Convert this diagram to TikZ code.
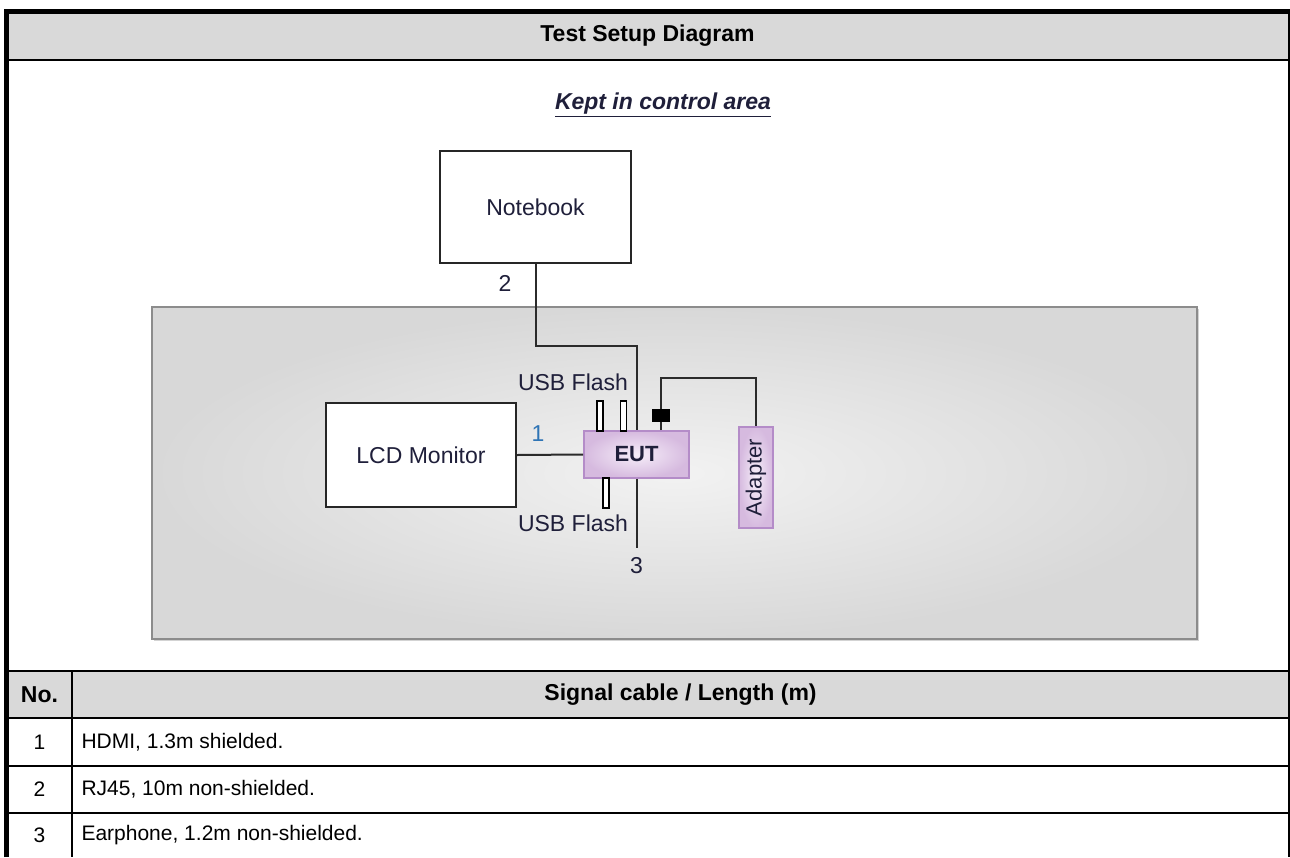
\documentclass[tikz,border=0pt]{standalone}
\usepackage{fontspec}
\usepackage{graphicx}
\setmainfont{Liberation Sans}
\usetikzlibrary{shadows}
\definecolor{headgray}{HTML}{D9D9D9}
\definecolor{areaedge}{HTML}{8C8C8C}
\definecolor{areain}{HTML}{F2F2F2}
\definecolor{areaout}{HTML}{D8D8D8}
\definecolor{eutedge}{HTML}{B48CC8}
\definecolor{eutin}{HTML}{F6EEF9}
\definecolor{eutout}{HTML}{D6BADF}
\definecolor{cablegray}{HTML}{2B2B2B}
\definecolor{inkblue}{HTML}{1F1F3A}
\definecolor{numblue}{HTML}{2E74B5}
\newcommand{\devicebox}[5] {\node at (#1) (#2) [draw=black!85, line width=2pt, fill=white, minimum width=#3, minimum height=#4, inner sep=0pt, text=inkblue] {#5};}
\newcommand{\purplebox}[5] {\node at (#1) (#2) [draw=eutedge, line width=1.6pt, shading=radial, inner color=eutin, outer color=eutout, minimum width=#3, minimum height=#4, inner sep=0pt, text=inkblue] {#5};}
\newcommand{\usbstick}[2] {\node at (#1) (#2) [draw=black, line width=1.4pt, fill=white, minimum width=6, minimum height=30, inner sep=0pt] {};}
\newcommand{\cell}[3] {\node at (#1) (#2) [anchor=west] {#3};}

\begin{document}
\begin{tikzpicture}[x=1pt, y=-1pt, font=\fontsize{21}{24}\selectfont,
  cable/.style={draw=cablegray, line width=2pt},
  rule/.style={line width=2.6pt},
  label/.style={text=inkblue, font=\fontsize{23}{26}\selectfont}]
\useasboundingbox (0,0) rectangle (1290,857);

% frame of the table
\fill[headgray] (6,14) rectangle (1289,60);
\fill[headgray] (6,671) rectangle (1289,718);
\draw[line width=5pt] (6,857) -- (6,11.5) -- (1290,11.5);
\draw[line width=2pt] (1289,11.5) -- (1289,857);
\foreach \y in {60,671,718,766,813} \draw[rule] (6,\y) -- (1289,\y);
\draw[line width=2pt] (72,671) -- (72,857);

\node (title) at (647.5,36) {\fontsize{23}{26}\selectfont\bfseries Test Setup Diagram};

% setup area
\node at (674.5,473) (area) [draw=areaedge, line width=1.6pt, minimum width=1045, minimum height=332, shading=radial, inner color=areain, outer color=areaout, drop shadow={shadow xshift=2pt, shadow yshift=-2pt, opacity=0.35}] {};
\node (kept) at (663,105) [label] {\underline{\bfseries\itshape Kept in control area}};

\devicebox {535.5,207} {notebook} {191} {112} {\fontsize{23}{26}\selectfont Notebook};
\devicebox {421,455} {lcd} {190} {104} {\fontsize{23}{26}\selectfont LCD Monitor};
\purplebox {636.5,454.5} {eut} {105} {47} {\fontsize{22}{24}\selectfont\bfseries EUT};
\purplebox {756,477.5} {adapter} {34} {101} {\rotatebox{90}{\fontsize{22}{24}\selectfont Adapter}};
\node at (661,415.5) (plug) [fill=black, minimum width=18, minimum height=13, inner sep=0pt] {};

\usbstick {600,416} {usbA};
\usbstick {623.5,416} {usbB};
\usbstick {606,493} {usbC};
\node (usbtop) at (573,382) [label] {USB Flash};
\node (usbbot) at (573,523) [label] {USB Flash};

\coordinate (bend2) at (636.5,346);
\coordinate (end3) at (636.5,548);
\coordinate (bendA) at (756,378);

\draw[cable] (notebook.south) |- (bend2) -- (eut.north);
\draw[cable] (lcd.east) -- (eut.west);
\draw[cable] (eut.south) -- (end3);
\draw[cable] (eut.north -| plug) -- (plug.south);
\draw[cable] (plug.north) |- (bendA) -- (adapter.north);

\node (num2) at (505,283) [label] {2};
\node (num1) at (538,434) [label, text=numblue] {1};
\node (num3) at (end3) [label, anchor=north, yshift=-6pt] {3};

% cable list
\node (nohead) at (39.5,694.5) {\fontsize{23}{26}\selectfont\bfseries No.};
\node (cablehead) at (680.5,694.5) {\fontsize{23}{26}\selectfont\bfseries Signal cable / Length (m)};
\node (rowA) at (39.5,742) {1};
\node (rowB) at (39.5,789.5) {2};
\node (rowC) at (39.5,835) {3};
\cell {78,742} {cableA} {HDMI, 1.3m shielded.};
\cell {78,789.5} {cableB} {RJ45, 10m non-shielded.};
\cell {78,835} {cableC} {Earphone, 1.2m non-shielded.};

\end{tikzpicture}
\end{document}
